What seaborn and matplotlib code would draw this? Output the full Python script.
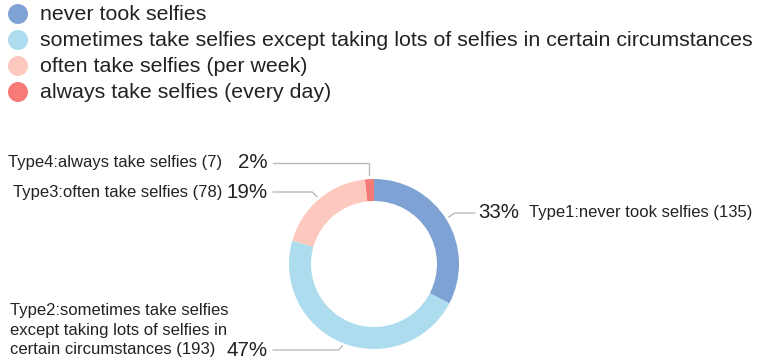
import numpy as np
import matplotlib
matplotlib.use("Agg")
import matplotlib.pyplot as plt
import seaborn as sns

# Survey counts by selfie habit
legend_labels = [
    "never took selfies",
    "sometimes take selfies except taking lots of selfies in certain circumstances",
    "often take selfies (per week)",
    "always take selfies (every day)",
]
type_labels = [
    "Type1:never took selfies (135)",
    "Type2:sometimes take selfies\nexcept taking lots of selfies in\ncertain circumstances (193)",
    "Type3:often take selfies (78)",
    "Type4:always take selfies (7)",
]
counts = [135, 193, 78, 7]
colors = ["#7fa2d4", "#acdcee", "#fdc9bf", "#f67b77"]

sns.set_theme(style="white")
plt.rcParams["font.family"] = ["Liberation Sans", "DejaVu Sans"]

W, H = 767, 363
fig = plt.figure(figsize=(W / 100, H / 100), dpi=100)
ax = fig.add_axes([0, 0, 1, 1])

palette = sns.color_palette(colors)

# Donut
cx, cy, r, ring = 374, H - 264, 85, 22
wedges, _ = ax.pie(counts, colors=palette, startangle=90, counterclock=False,
                   radius=r, center=(cx, cy), frame=True,
                   wedgeprops=dict(width=ring, linewidth=0))
ax.set_xlim(0, W)
ax.set_ylim(0, H)
ax.set_aspect("equal")
ax.axis("off")

txt = "#222222"
LEG_FS, LAB_FS, PCT_FS = 15.4, 12, 14.8

# Legend
for i, (lab, col) in enumerate(zip(legend_labels, palette)):
    y = H - (14 + 26 * i)
    ax.add_patch(plt.Circle((18, y), 10, color=col, lw=0))
    ax.text(40, y, lab, fontsize=LEG_FS, va="center", ha="left", color=txt)

total = sum(counts)
pcts = [f"{round(100 * c / total)}%" for c in counts]
line_kw = dict(color="#bbbbbb", lw=1)

def anchor(w):
    ang = np.deg2rad((w.theta1 + w.theta2) / 2)
    return cx + r * np.cos(ang), cy + r * np.sin(ang)

# Type1 (right side)
x0, y0 = anchor(wedges[0])
ly = H - 213
ax.plot([x0 + 2, x0 + 8, 475], [y0 + 3, ly, ly], **line_kw)
ax.text(478, ly, pcts[0], fontsize=PCT_FS, va="center", ha="left", color=txt)
ax.text(529, ly, type_labels[0], fontsize=LAB_FS, va="center", ha="left", color=txt)

# Type2 (bottom left)
x0, y0 = anchor(wedges[1])
ly = H - 350
ax.plot([x0, x0 - 4, 273], [y0 - 3, ly, ly], **line_kw)
ax.text(268, ly, pcts[1], fontsize=PCT_FS, va="center", ha="right", color=txt)
ax.text(10, H - 330, type_labels[1], fontsize=LAB_FS, va="center", ha="left",
        color=txt, linespacing=1.35)

# Type3 (upper left)
x0, y0 = anchor(wedges[2])
ly = H - 192
ax.plot([x0 - 2, x0 - 7, 273], [y0 + 2, ly, ly], **line_kw)
ax.text(268, ly, pcts[2], fontsize=PCT_FS, va="center", ha="right", color=txt)
ax.text(222, ly, type_labels[2], fontsize=LAB_FS, va="center", ha="right", color=txt)

# Type4 (top)
x0, y0 = anchor(wedges[3])
ly = H - 163
ax.plot([x0, x0, 273], [y0 + 4, ly, ly], **line_kw)
ax.text(268, ly, pcts[3], fontsize=PCT_FS, va="center", ha="right", color=txt)
ax.text(222, ly, type_labels[3], fontsize=LAB_FS, va="center", ha="right", color=txt)

fig.savefig("out.png", dpi=100)
